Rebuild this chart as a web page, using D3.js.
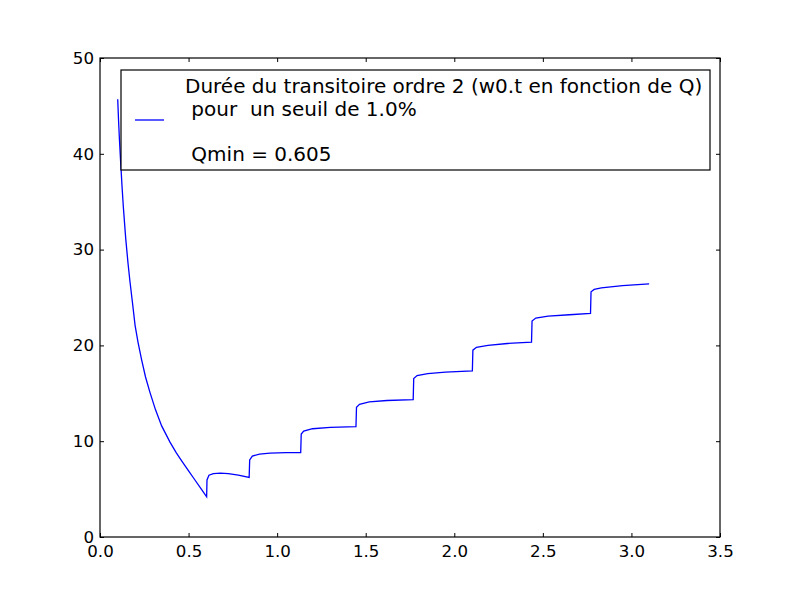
<!DOCTYPE html>
<html>
<head>
<meta charset="utf-8">
<script src="https://cdn.jsdelivr.net/npm/d3@7"></script>
<style>
  body { margin: 0; background: #fff; }
  text { font-family: "DejaVu Sans", sans-serif; }
</style>
</head>
<body>
<div id="chart"></div>
<script>
// values (Q on x, w0.t on y)
const qValues = [
  0.100, 0.105, 0.110, 0.117, 0.125, 0.132, 0.145, 0.158, 0.169, 0.183,
  0.198, 0.215, 0.235, 0.257, 0.282, 0.313, 0.348, 0.395, 0.430, 0.461,
  0.500, 0.536, 0.570, 0.602,
  0.604, 0.615, 0.640, 0.680, 0.724, 0.781, 0.842,
  0.845, 0.860, 0.900, 0.960, 1.050, 1.133,
  1.136, 1.150, 1.200, 1.300, 1.445,
  1.448, 1.465, 1.520, 1.620, 1.768,
  1.771, 1.790, 1.850, 1.950, 2.102,
  2.105, 2.125, 2.190, 2.300, 2.436,
  2.439, 2.460, 2.530, 2.650, 2.769,
  2.772, 2.790, 2.830, 2.950, 3.100
];
const durations = [
  45.7, 43.4, 41.4, 39.0, 36.4, 34.4, 31.2, 28.6, 26.7, 24.5,
  22.1, 20.3, 18.5, 16.7, 15.1, 13.3, 11.6, 9.9, 8.8, 7.95,
  6.9, 5.95, 5.05, 4.2,
  5.95, 6.45, 6.62, 6.66, 6.62, 6.45, 6.22,
  8.05, 8.45, 8.66, 8.75, 8.8, 8.8,
  10.75, 11.05, 11.3, 11.45, 11.52,
  13.55, 13.85, 14.1, 14.25, 14.35,
  16.55, 16.85, 17.05, 17.2, 17.33,
  19.5, 19.8, 20.0, 20.2, 20.35,
  22.55, 22.85, 23.05, 23.2, 23.35,
  25.6, 25.85, 26.0, 26.25, 26.42
];

const xTicks = [0, 0.5, 1.0, 1.5, 2.0, 2.5, 3.0, 3.5];
const yTicks = [0, 10, 20, 30, 40, 50];

const legendLines = [
  'Durée du transitoire ordre 2 (w0.t en fonction de Q)',
  ' pour  un seuil de 1.0%',
  '',
  ' Qmin = 0.605'
];

const margin = ({top: 58, right: 80, bottom: 60, left: 100});
const width = 800 - margin.left - margin.right;
const height = 597 - margin.top - margin.bottom;

const svg = d3.select('#chart')
    .append('svg')
    .attr('width', 800)
    .attr('height', 597)
    .append('g')
    .attr('transform', 'translate(' + margin.left + ',' + margin.top + ')');

const xScale = d3.scaleLinear().domain([0, 3.5]).range([0, width]);
const yScale = d3.scaleLinear().domain([0, 50]).range([height, 0]);

const fontSize = 16.67;
const legendFontSize = 20;

// axes, ticks pointing inside like matplotlib classic
const xAxis = d3.axisBottom(xScale).tickValues(xTicks).tickFormat(d3.format('.1f'))
    .tickSizeInner(-4).tickSizeOuter(0).tickPadding(8);
const yAxis = d3.axisLeft(yScale).tickValues(yTicks).tickFormat(d3.format('d'))
    .tickSizeInner(-4).tickSizeOuter(0).tickPadding(6);
const xTop = d3.axisTop(xScale).tickValues(xTicks).tickFormat('')
    .tickSizeInner(-4).tickSizeOuter(0);
const yRight = d3.axisRight(yScale).tickValues(yTicks).tickFormat('')
    .tickSizeInner(-4).tickSizeOuter(0);

svg.append('clipPath')
    .attr('id', 'clip')
    .append('rect')
    .attr('width', width)
    .attr('height', height);

const line = d3.line()
    .x((d, i) => xScale(qValues[i]))
    .y(d => yScale(d));

svg.append('path')
    .datum(durations)
    .attr('clip-path', 'url(#clip)')
    .attr('fill', 'none')
    .attr('stroke', '#0000ff')
    .attr('stroke-width', 1.3)
    .attr('d', line);

[[xAxis, 'translate(0,' + height + ')'], [yAxis, null], [xTop, null], [yRight, 'translate(' + width + ',0)']]
    .forEach(([ax, tr]) => {
        const g = svg.append('g').attr('class', 'axis');
        if (tr) g.attr('transform', tr);
        g.call(ax);
        g.select('.domain').remove();
        g.selectAll('line').attr('stroke', '#000').attr('stroke-width', 1);
        g.selectAll('text')
            .attr('fill', '#000')
            .style('font-size', fontSize + 'px')
            .style('font-family', '"DejaVu Sans", sans-serif');
    });

svg.append('rect')
    .attr('width', width)
    .attr('height', height)
    .attr('fill', 'none')
    .attr('stroke', '#000')
    .attr('stroke-width', 1.2);

// legend box
const legend = svg.append('g')
    .attr('transform', 'translate(' + (121 - margin.left) + ',' + (70 - margin.top) + ')');

legend.append('rect')
    .attr('width', 589)
    .attr('height', 100)
    .attr('fill', '#fff')
    .attr('stroke', '#000')
    .attr('stroke-width', 1.2);

legend.append('line')
    .attr('x1', 14).attr('x2', 43)
    .attr('y1', 50).attr('y2', 50)
    .attr('stroke', '#0000ff')
    .attr('stroke-width', 1.3);

legend.append('text')
    .attr('x', 64)
    .attr('y', 23)
    .style('font-size', legendFontSize + 'px')
    .attr('xml:space', 'preserve')
    .selectAll('tspan')
    .data(legendLines)
    .join('tspan')
    .attr('x', 64)
    .attr('dy', (d, i) => i === 0 ? 0 : 22.5)
    .style('white-space', 'pre')
    .text(d => d === '' ? ' ' : d);
</script>
</body>
</html>
